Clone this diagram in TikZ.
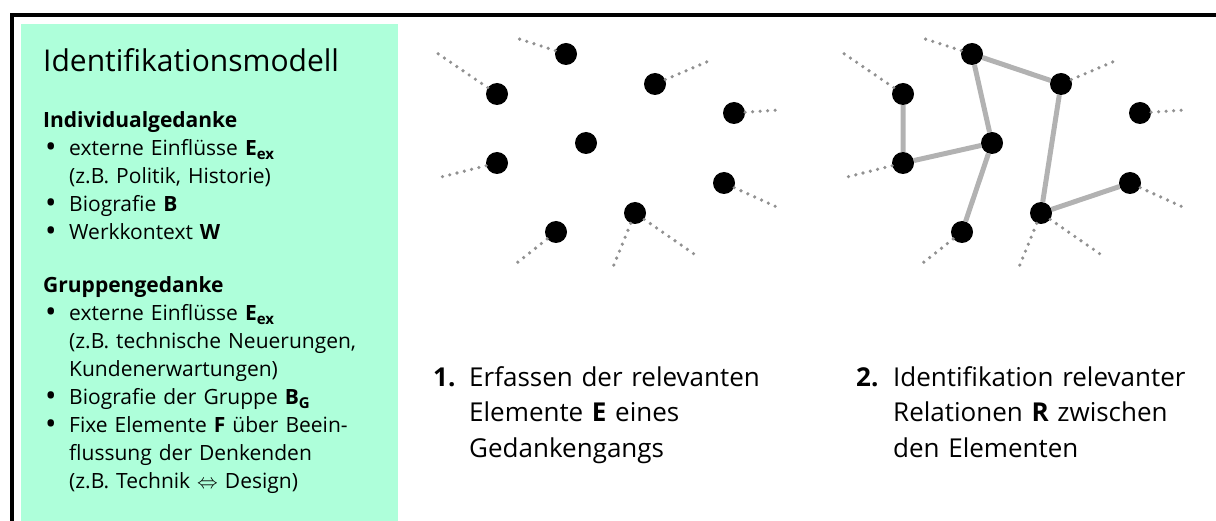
\documentclass[tikz,border=0pt]{standalone}
\usepackage{fontspec}
\setmainfont{Open Sans}
\usetikzlibrary{positioning}
\definecolor{mintgruen}{RGB}{174,255,218}
\definecolor{punktgrau}{RGB}{145,145,145}
\definecolor{relgrau}{RGB}{178,178,178}
\newcommand{\punkt}{\makebox[26pt][l]{\hspace{2pt}\raisebox{-0.1ex}{\scalebox{1.45}{\textbullet}}}}
\newcommand{\einzug}{\hspace*{26pt}}
\newcommand{\idx}[1]{\raisebox{-0.35ex}{\fontsize{15}{15}\selectfont\bfseries #1}}

\begin{document}
\begin{tikzpicture}[
    x=1pt, y=-1pt,
    nosep/.style={inner sep=0},
    element/.style={circle, fill=black, minimum size=22pt, nosep},
    spur/.style={draw=punktgrau, line width=3.6pt, line cap=round, dash pattern=on 0pt off 7.5pt},
    relation/.style={draw=relgrau, line width=5pt},
    liste/.style={anchor=base west, align=left, nosep, text width=340pt, font=\fontsize{21}{28}\selectfont},
    schritt/.style={anchor=base west, align=left, nosep, text width=320pt, font=\fontsize{26}{35.5}\selectfont}]
\useasboundingbox (0,0) rectangle (1216,521);

\fill[mintgruen] (21,24) rectangle (398,521);
\draw[line width=4pt] (11.7,521) -- (11.7,15) -- (1216,15);

\node[anchor=base west, nosep, font=\fontsize{30}{36}\selectfont] (titel) at (43,72) {Identifikationsmodell};

\node[liste] (indiv) at (43,128) {%
    \textbf{Individualgedanke}\\
    \punkt externe Einflüsse \textbf{E}\idx{ex}\\
    \einzug(z.B. Politik, Historie)\\
    \punkt Biografie \textbf{B}\\
    \punkt Werkkontext \textbf{W}};

\node[liste] (gruppe) at (43,293) {%
    \textbf{Gruppengedanke}\\
    \punkt externe Einflüsse \textbf{E}\idx{ex}\\
    \einzug(z.B. technische Neuerungen,\\
    \einzug Kundenerwartungen)\\
    \punkt Biografie der Gruppe \textbf{B}\idx{G}\\
    \punkt Fixe Elemente \textbf{F} über Beein-\\
    \einzug flussung der Denkenden\\
    \einzug(z.B. Technik $\Leftrightarrow$ Design)};

\node[schritt, text width=30pt] (nr1) at (433,386) {\textbf{1.}};
\node[schritt] (schritt1) at (469,386) {Erfassen der relevanten\\ Elemente \textbf{E} eines\\ Gedankengangs};
\node[schritt, text width=30pt] (nr2) at (856,386) {\textbf{2.}};
\node[schritt] (schritt2) at (893,386) {Identifikation relevanter\\ Relationen \textbf{R} zwischen\\ den Elementen};

\foreach \p/\dx in {l/0, r/406}{
    \begin{scope}[xshift=\dx]
        \node[element] (\p-a) at (566,54) {};
        \node[element] (\p-b) at (497,94) {};
        \node[element] (\p-c) at (655,84) {};
        \node[element] (\p-d) at (734,113) {};
        \node[element] (\p-e) at (586,143) {};
        \node[element] (\p-f) at (497,163) {};
        \node[element] (\p-g) at (724,183) {};
        \node[element] (\p-h) at (635,213) {};
        \node[element] (\p-i) at (556,232) {};
        \coordinate (\p-a-aus) at (513,37);
        \coordinate (\p-b-aus) at (437,53);
        \coordinate (\p-c-aus) at (709,61);
        \coordinate (\p-d-aus) at (779,110);
        \coordinate (\p-f-aus) at (437,178);
        \coordinate (\p-g-aus) at (779,208);
        \coordinate (\p-h-aus) at (611,272);
        \coordinate (\p-h-aus2) at (697,256);
        \coordinate (\p-i-aus) at (513,266);
    \end{scope}
    \foreach \k in {a,b,c,d,f,g,h,i}
        \draw[spur] (\p-\k) -- (\p-\k-aus);
    \draw[spur] (\p-h) -- (\p-h-aus2);
}

\draw[relation] (r-b) -- (r-f) -- (r-e) -- (r-a) -- (r-c) -- (r-h) -- (r-g);
\draw[relation] (r-e) -- (r-i);

\end{tikzpicture}
\end{document}
